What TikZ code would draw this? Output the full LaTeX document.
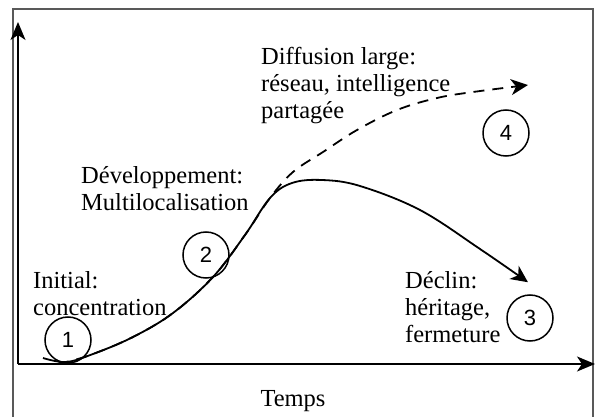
\documentclass[tikz,border=0pt]{standalone}
\usepackage{fontspec}
\setmainfont{Liberation Serif}
\newfontfamily\numfont{Liberation Sans}
\usetikzlibrary{arrows.meta,calc}
\begin{document}
\begin{tikzpicture}[x=1pt,y=-1pt,
  axis/.style={line width=2pt,-{Stealth[length=18pt,width=15pt,inset=5pt]}},
  curve/.style={line width=1.8pt,-{Stealth[length=17pt,width=16pt,inset=5pt]}},
  phase/.style={circle,draw,line width=1.5pt,minimum size=46pt,inner sep=0pt,font=\numfont\fontsize{22}{22}\selectfont},
  label/.style={anchor=north west,inner sep=0pt,align=left,font=\fontsize{24.5}{27}\selectfont}]
\useasboundingbox (0,0) rectangle (595,417);
\fill[white] (0,0) rectangle (595,417);
% outer frame
\draw[line width=1.3pt,black!65] (13,417) -- (13,9) -- (593,9) -- (593,417);
% axes
\coordinate (O) at (18,364);
\coordinate (ytop) at (18,22);
\coordinate (xend) at (595,364);
\draw[axis] (O) -- (ytop);
\draw[axis] (O) -- (xend);
\node[inner sep=0pt,font=\fontsize{24.5}{27}\selectfont] (temps) at (293,401) {Temps};
% phase markers
\node[phase] (n1) at (68,340) {1};
\node[phase] (n2) at (206,255) {2};
\node[phase] (n3) at (530,318) {3};
\node[phase] (n4) at (506,133) {4};
% phase labels
\node[label] (initial) at (33,271) {Initial:\\concentration};
\node[label] (dev) at (81,166) {Développement:\\Multilocalisation};
\node[label] (diff) at (261,47) {Diffusion large:\\réseau, intelligence\\partagée};
\node[label] (declin) at (405,271) {Déclin:\\héritage,\\fermeture};
% curve ends
\coordinate (start) at (43,358);
\coordinate (endsolid) at ($(n3.north)+(-2,-12)$);
\coordinate (enddash) at (528,85);
% decline path
\draw[curve] plot[smooth,tension=0.6] coordinates {(start) (66,362) (93,354) (133,337) (173,313) (213,277) (245,235) (270,198) (292,183) (322,180) (360,186) (420,210) (480,249) (endsolid)};
% wide diffusion path
\draw[curve,dashed,dash pattern=on 11pt off 8pt] plot[smooth,tension=0.6] coordinates {(58,361) (66,362) (93,354) (133,337) (173,313) (213,277) (245,235) (270,198) (293,172) (323,152) (357,130) (397,110) (437,98) (473,92) (enddash)};
\end{tikzpicture}
\end{document}
